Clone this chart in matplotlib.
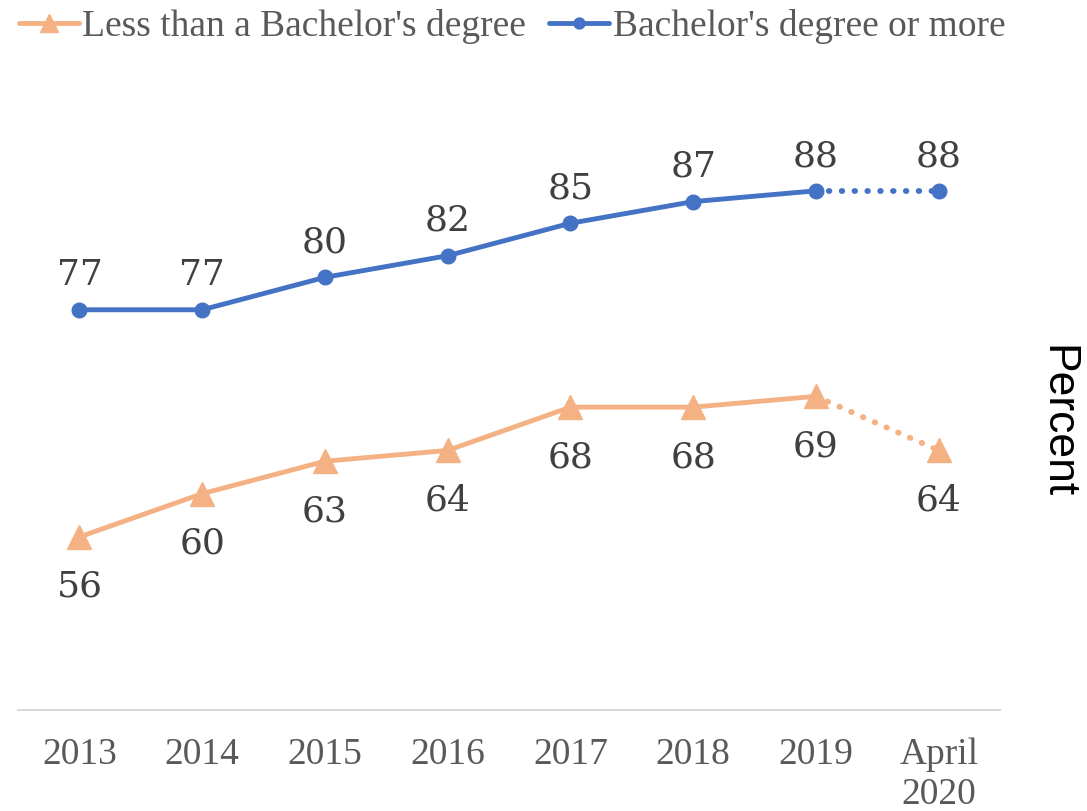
import matplotlib.pyplot as plt

years = ['2013', '2014', '2015', '2016', '2017', '2018', '2019', 'April\n2020']
less_than_ba = [56, 60, 63, 64, 68, 68, 69, 64]
ba_or_more = [77, 77, 80, 82, 85, 87, 88, 88]

orange = '#F4B183'
blue = '#4472C4'
grey = '#595959'

fig = plt.figure(figsize=(10.87, 8.11), dpi=100)
ax = fig.add_axes([0.0166, 0.1245, 0.9034, 0.8003])

x = list(range(len(years)))

# solid part up to 2019, dotted from 2019 to April 2020
ax.plot(x[:-1], less_than_ba[:-1], color=orange, lw=3.5, marker='^', ms=17,
        label="Less than a Bachelor's degree", solid_capstyle='round')
ax.plot(x[-2:], less_than_ba[-2:], color=orange, lw=4.2, ls=(0, (0.1, 2.1)),
        dash_capstyle='round')
ax.plot(x[-1], less_than_ba[-1], color=orange, marker='^', ms=17, ls='none')

ax.plot(x[:-1], ba_or_more[:-1], color=blue, lw=3.5, marker='o', ms=10.5,
        label="Bachelor's degree or more", solid_capstyle='round')
ax.plot(x[-2:], ba_or_more[-2:], color=blue, lw=4.2, ls=(0, (0.1, 2.1)),
        dash_capstyle='round')
ax.plot(x[-1], ba_or_more[-1], color=blue, marker='o', ms=10.5, ls='none')

for xi, v in zip(x, ba_or_more):
    ax.annotate(str(v), (xi, v), xytext=(0, 25), textcoords='offset points',
                ha='center', va='center', fontsize=26, family='DejaVu Serif',
                color='#404040')
for xi, v in zip(x, less_than_ba):
    ax.annotate(str(v), (xi, v), xytext=(0, -36), textcoords='offset points',
                ha='center', va='center', fontsize=26, family='DejaVu Serif',
                color='#404040')

ax.set_xlim(-0.5, 7.5)
ax.set_ylim(40, 100)
ax.set_xticks(x)
ax.set_xticklabels(years, family='Liberation Serif', fontsize=27, color=grey,
                   linespacing=1.2)
ax.tick_params(axis='x', length=0, pad=20)
ax.set_yticks([])
for side in ['top', 'left', 'right']:
    ax.spines[side].set_visible(False)
ax.spines['bottom'].set_color('#D9D9D9')
ax.spines['bottom'].set_linewidth(1.5)

fig.text(0.972, 0.48, 'Percent', rotation=270, ha='center', va='center',
         fontsize=32, family='Liberation Sans', color='black')

fig.legend(loc='upper left', bbox_to_anchor=(0.0, 1.012), ncol=2, frameon=False,
           prop={'family': 'Liberation Serif', 'size': 27}, labelcolor=grey,
           handlelength=1.6, handletextpad=0.1, columnspacing=0.6,
           borderaxespad=0.1, markerscale=0.75)

fig.savefig('out.png', dpi=100)
